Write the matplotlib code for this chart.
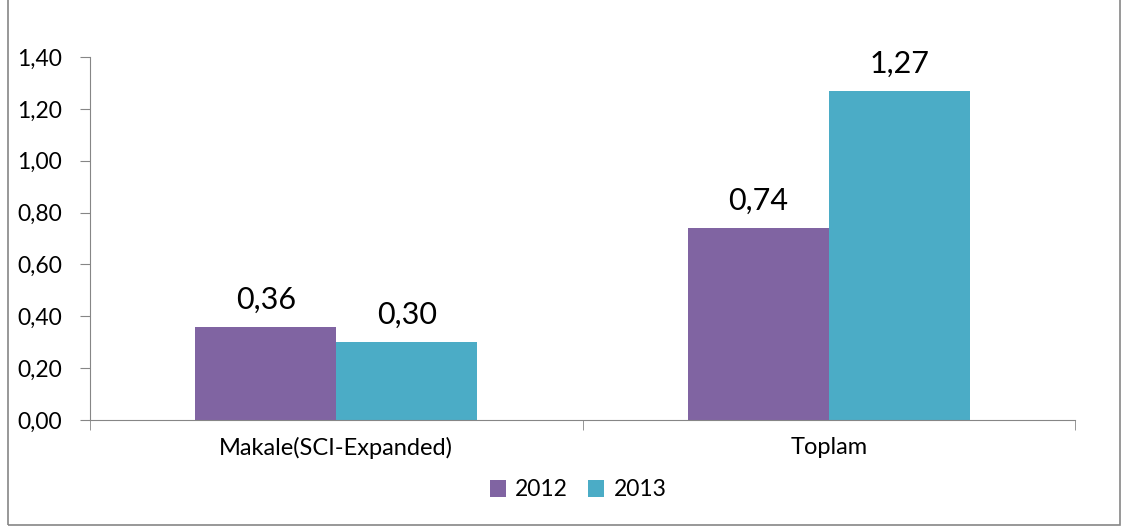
import numpy as np
import matplotlib.pyplot as plt
from matplotlib.patches import Rectangle

categories = ["Makale(SCI-Expanded)", "Toplam"]
years = ["2012", "2013"]
vals_2012 = [0.36, 0.74]
vals_2013 = [0.30, 1.27]
yticks = [0.0, 0.2, 0.4, 0.6, 0.8, 1.0, 1.2, 1.4]

plt.rcParams['font.family'] = ['Lato', 'DejaVu Sans']

fig = plt.figure(figsize=(11.28, 5.32), dpi=100)
ax = fig.add_axes([90/1128, 1 - 420/532, 985/1128, 363/532])

# outer frame
fig.patches.append(Rectangle((8/1128, 7/532), 1112/1128, 540/532, transform=fig.transFigure,
                             fill=False, edgecolor="#868686", linewidth=1.2))

x = np.arange(len(categories))
w = 0.286
b1 = ax.bar(x - w/2, vals_2012, w, color="#8064A2", label=years[0])
b2 = ax.bar(x + w/2, vals_2013, w, color="#4BACC6", label=years[1])

def fmt(v):
    return ("%.2f" % v).replace(".", ",")

for bars, vals in ((b1, vals_2012), (b2, vals_2013)):
    for r, v in zip(bars, vals):
        ax.annotate(fmt(v), (r.get_x() + r.get_width()/2, v), xytext=(0, 13),
                    textcoords="offset points", ha="center", va="baseline", fontsize=22)

ax.set_xlim(-0.5, 1.5)
ax.set_ylim(0, 1.4)
ax.set_yticks(yticks)
ax.set_yticklabels([fmt(t) for t in yticks], fontsize=16.5)
ax.set_xticks(x)
ax.set_xticklabels(categories, fontsize=17)
ax.tick_params(axis="x", length=0, pad=12)
ax.set_xticks([-0.5, 0.5, 1.5], minor=True)
ax.tick_params(axis="x", which="minor", length=7, color="#868686", direction="out")
ax.tick_params(axis="y", length=7, color="#868686", pad=13)
for s in ("top", "right"):
    ax.spines[s].set_visible(False)
for s in ("left", "bottom"):
    ax.spines[s].set_color("#868686")

ax.legend(loc="center", bbox_to_anchor=(578/1128, 1 - 490/532), bbox_transform=fig.transFigure,
          ncol=2, frameon=False, fontsize=16.5, handlelength=0.7, handleheight=0.7,
          handletextpad=0.4, columnspacing=0.9)

plt.savefig("out.png", dpi=100)
